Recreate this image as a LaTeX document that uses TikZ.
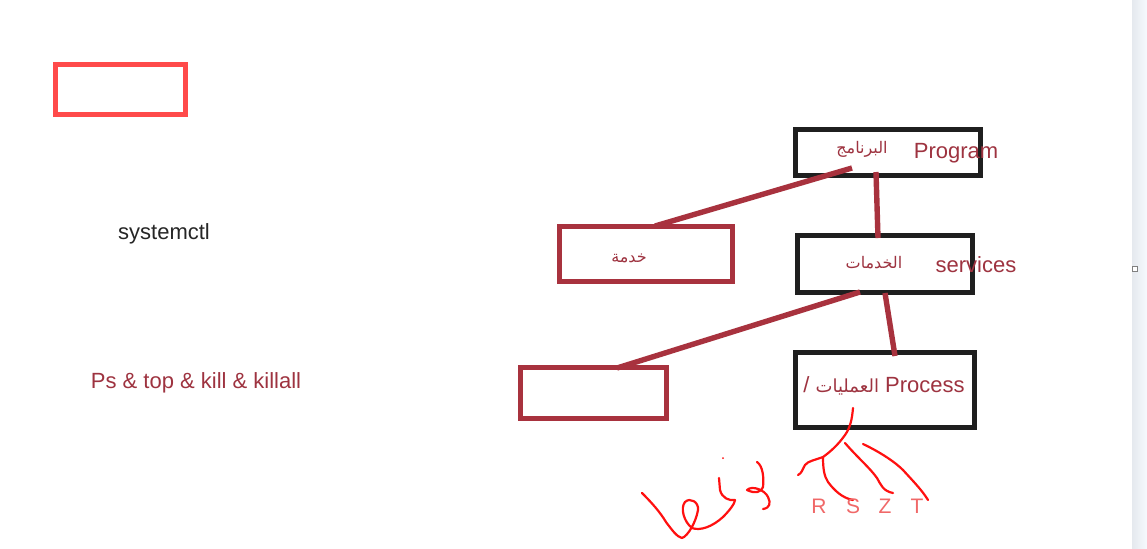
\documentclass[tikz,border=0pt]{standalone}
\usepackage{fontspec}
\setmainfont{Liberation Sans}
\newfontfamily\arabicfont[Script=Arabic]{DejaVu Sans}
\TeXXeTstate=1
\definecolor{wine}{HTML}{A8323E}
\definecolor{winetext}{HTML}{9E3340}
\definecolor{penred}{HTML}{FF1010}
\definecolor{lightred}{HTML}{FF4A4A}
\definecolor{pinkletter}{HTML}{F06868}
\definecolor{stripblue}{HTML}{E8F1FB}
\tikzset{
  blackbox/.style={draw=black!88, line width=2.5pt, fill=white, inner sep=0pt},
  winebox/.style={draw=wine, line width=2.5pt, fill=white, inner sep=0pt},
  link/.style={draw=wine, line width=2.7pt},
  pen/.style={draw=penred, line width=1.1pt, line cap=round, line join=round},
  label/.style={font=\fontsize{11}{13}\selectfont, text=winetext, inner sep=0pt},
  arlabel/.style={font=\arabicfont\fontsize{8}{10}\selectfont, text=winetext, inner sep=0pt},
  letter/.style={font=\fontsize{10.5}{12}\selectfont, text=pinkletter, inner sep=0pt},
}
\begin{document}
\begin{tikzpicture}[x=0.5pt, y=-0.5pt]
  \useasboundingbox (0,0) rectangle (1147,548);
  \fill[white] (0,0) rectangle (1147,548);
  % scroll strip on the right edge
  \shade[left color=stripblue!80!gray!60, right color=white!60!stripblue] (1132,0) rectangle (1147,548);
  \draw[gray, line width=0.5pt, fill=white] (1132,266) rectangle (1137,271);

  % boxes
  \node[draw=lightred, line width=2.5pt, fill=white, minimum width=65pt, minimum height=25pt] (topbox) at (120.5,89.5) {};
  \node[blackbox, minimum width=92.5pt, minimum height=23pt] (prog) at (888,152.5) {};
  \node[winebox, minimum width=86.5pt, minimum height=27.5pt] (khidma) at (646,254) {};
  \node[blackbox, minimum width=87.5pt, minimum height=28.5pt] (serv) at (885,264) {};
  \node[winebox, minimum width=73pt, minimum height=25.5pt] (empty) at (593.5,393) {};
  \node[blackbox, minimum width=89.5pt, minimum height=37.5pt] (proc) at (885,390) {};

  % connector end points
  \coordinate (p1) at (852,168);
  \coordinate (k1) at (655,226);
  \coordinate (p2) at (876,172);
  \coordinate (s1) at (878,238);
  \coordinate (s2) at (860,292);
  \coordinate (e1) at (617,368);
  \coordinate (s3) at (885,293);
  \coordinate (r1) at (895,356);

  \draw[link] (p1) -- (k1);
  \draw[link] (p2) -- (s1);
  \draw[link] (s2) -- (e1);
  \draw[link] (s3) -- (r1);

  % texts
  \node[font=\fontsize{11}{13}\selectfont, text=black!85, inner sep=0pt] (sysctl) at (164,234) {systemctl};
  \node[label] (cmds) at (196,383) {Ps \& top \& kill \& killall};
  \node[label] (progtxt) at (956,153) {Program};
  \node[arlabel] (progar) at (862,149) {\beginR البرنامج\endR};
  \node[arlabel] (khtxt) at (629,258) {\beginR خدمة\endR};
  \node[arlabel] (servar) at (874,263) {\beginR الخدمات\endR};
  \node[label] (servtxt) at (976,265) {services};
  \node[label] (proctxt) at (884,386) {/ {\arabicfont\fontsize{9}{11}\selectfont\beginR العمليات\endR} Process};

  % handwritten states
  \draw[pen] (853,408) .. controls (852,420) and (850,428) .. (845,435)
    .. controls (838,445) and (830,452) .. (823,457)
    .. controls (815,460) and (808,461) .. (805,465)
    .. controls (802,470) and (802,473) .. (798,475);
  \draw[pen] (823,457) .. controls (823,468) and (824,476) .. (828,482)
    .. controls (834,490) and (842,498) .. (853,500);
  \draw[pen] (845,443) .. controls (858,458) and (870,468) .. (877,478)
    .. controls (881,485) and (883,491) .. (893,493);
  \draw[pen] (863,444) .. controls (880,452) and (895,462) .. (903,470)
    .. controls (912,480) and (922,490) .. (928,500);
  \node[letter] (sr) at (819,506) {R};
  \node[letter] (ss) at (853,506) {S};
  \node[letter] (sz) at (885,506) {Z};
  \node[letter] (st) at (917,506) {T};

  % handwritten word
  \draw[pen] (642,493) .. controls (652,503) and (660,512) .. (666,522)
    .. controls (672,530) and (677,537) .. (682,538)
    .. controls (688,536) and (696,522) .. (698,510)
    .. controls (699,502) and (690,497) .. (685,502)
    .. controls (680,508) and (684,522) .. (692,528)
    .. controls (700,531) and (712,527) .. (723,517)
    .. controls (730,510) and (735,503) .. (735,500)
    .. controls (729,501) and (722,498) .. (720,490)
    -- (719,478);
  \fill[penred] (723,458) circle (1);
  \draw[pen] (757,462) .. controls (763,466) and (764,478) .. (763,487)
    .. controls (762,492) and (755,494) .. (747,490)
    .. controls (752,485) and (765,490) .. (768,497)
    .. controls (771,503) and (770,508) .. (763,509);
\end{tikzpicture}
\end{document}
